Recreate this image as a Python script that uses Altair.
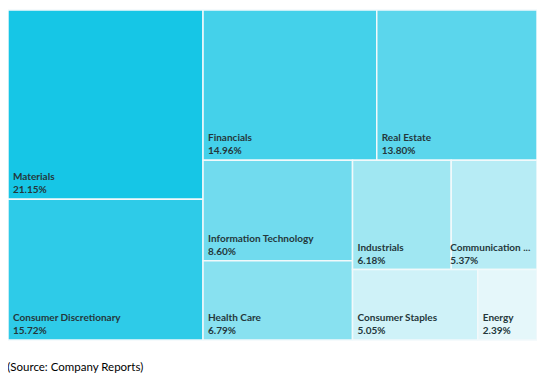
import altair as alt
import pandas as pd

sectors = ["Materials", "Consumer Discretionary", "Financials", "Real Estate",
           "Information Technology", "Health Care", "Industrials",
           "Communication Services", "Consumer Staples", "Energy"]
weights = [21.15, 15.72, 14.96, 13.80, 8.60, 6.79, 6.18, 5.37, 5.05, 2.39]
colors = ["#16C6E6", "#2ECBE8", "#44D1EA", "#5BD6EC", "#71DBEE",
          "#88E1F0", "#A0E7F2", "#B7ECF5", "#CFF2F8", "#E5F7FA"]

LAYOUT_W, LAYOUT_H = 1.5, 1.0


def squarify(values, x0, y0, x1, y1):
    rects = []
    value = sum(values)
    i0, n = 0, len(values)
    while i0 < n:
        dx, dy = x1 - x0, y1 - y0
        i1 = i0
        s = values[i1]
        i1 += 1
        mn = mx = s
        alpha = max(dy / dx, dx / dy) / value
        beta = s * s * alpha
        min_ratio = max(mx / beta, beta / mn)
        while i1 < n:
            v = values[i1]
            s2 = s + v
            mn2, mx2 = min(mn, v), max(mx, v)
            beta = s2 * s2 * alpha
            r = max(mx2 / beta, beta / mn2)
            if r > min_ratio:
                break
            s, mn, mx, min_ratio = s2, mn2, mx2, r
            i1 += 1
        row = values[i0:i1]
        if dx < dy:
            h = dy * s / value
            xx = x0
            for v in row:
                w = dx * v / s
                rects.append((xx, y0, xx + w, y0 + h))
                xx += w
            y0 += h
        else:
            w = dx * s / value
            yy = y0
            for v in row:
                h = dy * v / s
                rects.append((x0, yy, x0 + w, yy + h))
                yy += h
            x0 += w
        value -= s
        i0 = i1
    return rects


rects = squarify(weights, 0.0, 0.0, LAYOUT_W, LAYOUT_H)
df = pd.DataFrame({
    "sector": sectors,
    "weight": weights,
    "pct": [f"{w:.2f}%" for w in weights],
    "x0": [r[0] for r in rects],
    "y0": [r[1] for r in rects],
    "x1": [r[2] for r in rects],
    "y1": [r[3] for r in rects],
})

xs = alt.Scale(domain=[0, LAYOUT_W], nice=False, zero=False)
ys = alt.Scale(domain=[0, LAYOUT_H], nice=False, zero=False, reverse=True)

base = alt.Chart(df)

cells = base.mark_rect(stroke="#F2F9FB", strokeWidth=1.5).encode(
    x=alt.X("x0:Q", scale=xs, axis=None),
    x2="x1:Q",
    y=alt.Y("y0:Q", scale=ys, axis=None),
    y2="y1:Q",
    color=alt.Color("sector:N", scale=alt.Scale(domain=sectors, range=colors), legend=None),
)

txt_kw = dict(align="left", baseline="middle", font="Lato", fontSize=10,
              fontWeight="bold", color="#24373B")

names_main = base.transform_filter(
    alt.datum.sector != "Communication Services"
).mark_text(dy=-22, dx=5, **txt_kw).encode(
    x=alt.X("x0:Q", scale=xs), y=alt.Y("y1:Q", scale=ys), text="sector:N")

names_comm = base.transform_filter(
    alt.datum.sector == "Communication Services"
).mark_text(dy=-22, dx=-1, limit=82, ellipsis=" ...", **txt_kw).encode(
    x=alt.X("x0:Q", scale=xs), y=alt.Y("y1:Q", scale=ys), text="sector:N")

pcts_main = base.transform_filter(
    alt.datum.sector != "Communication Services"
).mark_text(dy=-9, dx=5, **txt_kw).encode(
    x=alt.X("x0:Q", scale=xs), y=alt.Y("y1:Q", scale=ys), text="pct:N")

pcts_comm = base.transform_filter(
    alt.datum.sector == "Communication Services"
).mark_text(dy=-9, dx=-1, **txt_kw).encode(
    x=alt.X("x0:Q", scale=xs), y=alt.Y("y1:Q", scale=ys), text="pct:N")

chart = alt.layer(cells, names_main, names_comm, pcts_main, pcts_comm).properties(
    width=529,
    height=330,
    autosize=alt.AutoSizeParams(type="none"),
    padding={"left": 0, "top": 2, "right": 0, "bottom": 40},
    title=alt.TitleParams(
        "(Source: Company Reports)", orient="bottom", anchor="start",
        font="Lato", fontSize=11.5, fontWeight="normal", color="#000000",
        offset=21,
    ),
).configure_view(stroke=None)

chart.save("out.html", embed_options={"renderer": "svg", "actions": False})
